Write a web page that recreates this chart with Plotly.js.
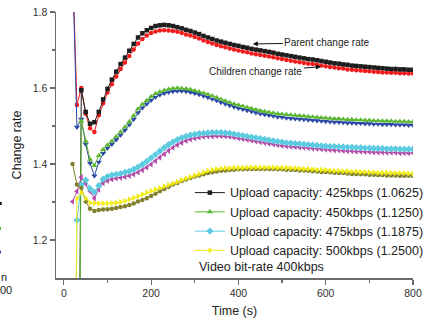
<!DOCTYPE html>
<html>
<head>
<meta charset="utf-8">
<script src="https://cdn.plot.ly/plotly-3.0.1.min.js"></script>
<style>html,body{margin:0;padding:0;background:#fff;}#chart{width:425px;height:321px;}</style>
</head>
<body>
<div id="chart"></div>
<script>
var time = [20,30,40,50,60,70,80,90,100,110,120,130,140,150,160,170,180,190,200,210,220,230,240,250,260,270,280,290,300,310,320,330,340,350,360,370,380,390,400,410,420,430,440,450,460,470,480,490,500,510,520,530,540,550,560,570,580,590,600,610,620,630,640,650,660,670,680,690,700,710,720,730,740,750,760,770,780,790,800];

var parent425 = [0,0,1.594,1.537,1.506,1.510,1.537,1.570,1.598,1.622,
1.643,1.663,1.680,1.698,1.716,1.733,1.744,1.752,1.758,1.763,
1.765,1.766,1.765,1.763,1.760,1.757,1.753,1.750,1.746,1.742,
1.737,1.733,1.729,1.725,1.722,1.719,1.716,1.713,1.711,1.708,
1.706,1.703,1.701,1.699,1.697,1.695,1.693,1.690,1.688,1.686,
1.684,1.682,1.680,1.678,1.676,1.675,1.673,1.671,1.669,1.667,
1.665,1.664,1.662,1.661,1.659,1.658,1.657,1.656,1.655,1.654,
1.653,1.652,1.651,1.650,1.650,1.649,1.649,1.648,1.648];

var child425 = [1.93,1.555,1.600,1.532,1.494,1.484,1.528,1.560,1.588,1.610,
1.630,1.650,1.667,1.684,1.701,1.717,1.729,1.738,1.745,1.749,
1.751,1.752,1.751,1.750,1.748,1.745,1.741,1.738,1.734,1.730,
1.725,1.721,1.717,1.713,1.710,1.707,1.704,1.701,1.699,1.696,
1.694,1.691,1.689,1.687,1.685,1.683,1.681,1.678,1.676,1.674,
1.672,1.670,1.668,1.666,1.664,1.663,1.661,1.659,1.657,1.655,
1.654,1.652,1.651,1.649,1.648,1.647,1.646,1.645,1.644,1.643,
1.642,1.641,1.641,1.640,1.640,1.639,1.639,1.638,1.638];

var parent450 = [0,0,1.513,1.460,1.412,1.396,1.422,1.438,1.450,1.460,
1.472,1.484,1.497,1.511,1.527,1.545,1.557,1.567,1.577,1.585,
1.590,1.594,1.597,1.599,1.600,1.599,1.598,1.596,1.593,1.590,
1.587,1.583,1.579,1.575,1.570,1.566,1.562,1.558,1.555,1.552,
1.549,1.546,1.543,1.540,1.538,1.536,1.534,1.532,1.531,1.530,
1.529,1.528,1.527,1.526,1.525,1.524,1.523,1.522,1.521,1.520,
1.519,1.519,1.518,1.517,1.517,1.516,1.516,1.515,1.515,1.514,
1.514,1.513,1.513,1.513,1.512,1.512,1.512,1.511,1.511];

var child450 = [1.92,1.497,1.518,1.452,1.402,1.369,1.405,1.428,1.442,1.452,
1.464,1.476,1.489,1.503,1.518,1.535,1.548,1.558,1.568,1.576,
1.582,1.586,1.589,1.591,1.592,1.592,1.591,1.589,1.586,1.583,
1.579,1.575,1.571,1.567,1.562,1.558,1.554,1.550,1.547,1.544,
1.541,1.538,1.535,1.532,1.530,1.528,1.526,1.524,1.523,1.521,
1.520,1.519,1.518,1.517,1.516,1.515,1.514,1.513,1.512,1.511,
1.510,1.510,1.509,1.508,1.508,1.507,1.507,1.506,1.506,1.505,
1.505,1.504,1.504,1.504,1.503,1.503,1.503,1.502,1.502];

var parent475 = [0,1.252,1.345,1.358,1.335,1.326,1.343,1.360,1.367,1.371,
1.373,1.375,1.378,1.381,1.386,1.392,1.399,1.407,1.416,1.425,
1.434,1.443,1.451,1.458,1.464,1.469,1.473,1.476,1.478,1.480,
1.481,1.482,1.483,1.483,1.483,1.482,1.481,1.479,1.477,1.475,
1.473,1.471,1.469,1.467,1.465,1.463,1.461,1.459,1.458,1.456,
1.455,1.454,1.453,1.452,1.451,1.450,1.449,1.448,1.447,1.446,
1.446,1.445,1.445,1.444,1.444,1.443,1.443,1.442,1.442,1.441,
1.441,1.441,1.440,1.440,1.440,1.439,1.439,1.439,1.439];

var child475 = [1.301,1.328,1.365,1.348,1.328,1.310,1.333,1.350,1.356,1.360,
1.362,1.364,1.366,1.369,1.373,1.378,1.384,1.391,1.399,1.408,
1.417,1.426,1.435,1.443,1.450,1.456,1.461,1.465,1.468,1.470,
1.472,1.473,1.473,1.474,1.474,1.473,1.472,1.470,1.468,1.466,
1.464,1.462,1.460,1.458,1.456,1.454,1.452,1.450,1.448,1.447,
1.446,1.445,1.444,1.443,1.442,1.441,1.440,1.439,1.438,1.437,
1.436,1.436,1.435,1.434,1.434,1.433,1.433,1.432,1.432,1.431,
1.431,1.431,1.430,1.430,1.430,1.429,1.429,1.429,1.429];

var parent500 = [0,1.309,1.325,1.310,1.298,1.297,1.296,1.296,1.296,1.297,
1.298,1.300,1.303,1.307,1.311,1.315,1.320,1.325,1.329,1.333,
1.337,1.341,1.345,1.349,1.353,1.358,1.362,1.366,1.370,1.374,
1.378,1.382,1.385,1.387,1.388,1.389,1.389,1.390,1.390,1.390,
1.391,1.391,1.391,1.391,1.391,1.391,1.391,1.390,1.390,1.390,
1.389,1.389,1.388,1.387,1.387,1.386,1.385,1.385,1.384,1.383,
1.382,1.382,1.381,1.381,1.380,1.380,1.379,1.379,1.378,1.378,
1.377,1.377,1.377,1.376,1.376,1.376,1.376,1.375,1.375];

var child500 = [1.400,1.346,1.337,1.301,1.282,1.276,1.279,1.280,1.281,1.282,
1.284,1.287,1.289,1.292,1.296,1.301,1.305,1.310,1.316,1.322,
1.328,1.334,1.340,1.346,1.350,1.355,1.359,1.363,1.367,1.370,
1.373,1.376,1.378,1.380,1.382,1.383,1.384,1.385,1.386,1.386,
1.387,1.387,1.387,1.387,1.387,1.387,1.387,1.386,1.386,1.385,
1.385,1.384,1.383,1.383,1.382,1.381,1.380,1.379,1.379,1.378,
1.377,1.376,1.376,1.375,1.374,1.374,1.373,1.373,1.372,1.372,
1.371,1.371,1.370,1.370,1.370,1.369,1.369,1.369,1.369];

var legendNames = [
  "Upload capacity: 425kbps (1.0625)",
  "Upload capacity: 450kbps (1.1250)",
  "Upload capacity: 475kbps (1.1875)",
  "Upload capacity: 500kbps (1.2500)"
];

function tr(y, name, color, symbol, size, show) {
  return {
    x: time, y: y, name: name, type: 'scatter', mode: 'lines+markers',
    showlegend: show,
    line: {color: color, width: 1},
    marker: {color: color, symbol: symbol, size: size, line: {width: 0}}
  };
}

var data = [
  tr(child425, 'child425', '#f21c1c', 'circle', 4.5, false),
  tr(parent425, legendNames[0], '#1e1e1e', 'square', 4.5, true),
  tr(child450, 'child450', '#2c4aa6', 'triangle-down', 5.5, false),
  tr(parent450, legendNames[1], '#5cb832', 'triangle-up', 5.5, true),
  tr(child475, 'child475', '#b448a8', 'triangle-left', 5.5, false),
  tr(parent475, legendNames[2], '#5ccbe0', 'diamond', 5.5, true),
  tr(child500, 'child500', '#80802e', 'circle', 4.5, false),
  tr(parent500, legendNames[3], '#f2ec12', 'triangle-right', 5.5, true)
];

var F = 'Arial, "Liberation Sans", sans-serif';
var axisCommon = {
  showgrid: false, zeroline: false, showline: true,
  linecolor: '#6a6a6a', linewidth: 1.5,
  ticks: 'outside', ticklen: 5, tickwidth: 1.2, tickcolor: '#6a6a6a',
  tickfont: {family: F, size: 10.5, color: '#333'}
};

var layout = {
  width: 425, height: 321,
  margin: {l: 56, r: 12, t: 12, b: 43, autoexpand: false},
  paper_bgcolor: '#fff', plot_bgcolor: '#fff',
  font: {family: F, color: '#222'},
  xaxis: Object.assign({}, axisCommon, {
    range: [-18, 800], tickvals: [0, 200, 400, 600, 800],
    minor: {tickvals: [100, 300, 500, 700], ticks: 'outside', ticklen: 3, tickcolor: '#6a6a6a'},
    title: {text: 'Time (s)', font: {family: F, size: 12.5, color: '#222'}, standoff: 8}
  }),
  yaxis: Object.assign({}, axisCommon, {
    range: [1.1, 1.8], tickvals: [1.2, 1.4, 1.6, 1.8], ticktext: ['1.2', '1.4', '1.6', '1.8'],
    minor: {tickvals: [1.3, 1.5, 1.7], ticks: 'outside', ticklen: 3, tickcolor: '#6a6a6a'},
    title: {text: 'Change rate', font: {family: F, size: 12.5, color: '#222'}, standoff: 8}
  }),
  showlegend: true,
  legend: {
    x: 0.375, xanchor: 'left', y: 0.376, yanchor: 'top',
    bgcolor: 'rgba(0,0,0,0)', borderwidth: 0,
    font: {family: F, size: 12.5, color: '#222'},
    tracegroupgap: 0
  },
  annotations: [
    {xref: 'paper', yref: 'paper', x: 0.395, y: 0.041, xanchor: 'left', yanchor: 'middle',
     text: 'Video bit-rate 400kbps', showarrow: false, font: {family: F, size: 12.5, color: '#222'}},
    {x: 433, y: 1.716, text: 'Parent change rate', showarrow: true, arrowhead: 2, arrowsize: 1,
     arrowwidth: 1, arrowcolor: '#111', ax: 74, ay: -1, font: {family: F, size: 10, color: '#222'}},
    {x: 589, y: 1.656, text: 'Children change rate', showarrow: true, arrowhead: 2, arrowsize: 1,
     arrowwidth: 1, arrowcolor: '#111', ax: -65, ay: 5, font: {family: F, size: 10, color: '#222'}},
    {xref: 'paper', yref: 'paper', x: -0.133, y: 0.004, xanchor: 'right', yanchor: 'middle',
     text: 'n', showarrow: false, font: {family: F, size: 11, color: '#222'}},
    {xref: 'paper', yref: 'paper', x: -0.117, y: -0.045, xanchor: 'right', yanchor: 'middle',
     text: '00', showarrow: false, font: {family: F, size: 11, color: '#222'}}
  ],
  shapes: [
    {type: 'rect', xref: 'paper', yref: 'paper', x0: -0.163, x1: -0.152, y0: 0.274, y1: 0.286, fillcolor: '#111', line: {width: 0}},
    {type: 'rect', xref: 'paper', yref: 'paper', x0: -0.163, x1: -0.154, y0: 0.180, y1: 0.192, fillcolor: '#5cb832', line: {width: 0}},
    {type: 'rect', xref: 'paper', yref: 'paper', x0: -0.163, x1: -0.154, y0: 0.092, y1: 0.102, fillcolor: '#2c4aa6', line: {width: 0}}
  ]
};

Plotly.newPlot('chart', data, layout, {displayModeBar: false, staticPlot: true});
</script>
</body>
</html>
